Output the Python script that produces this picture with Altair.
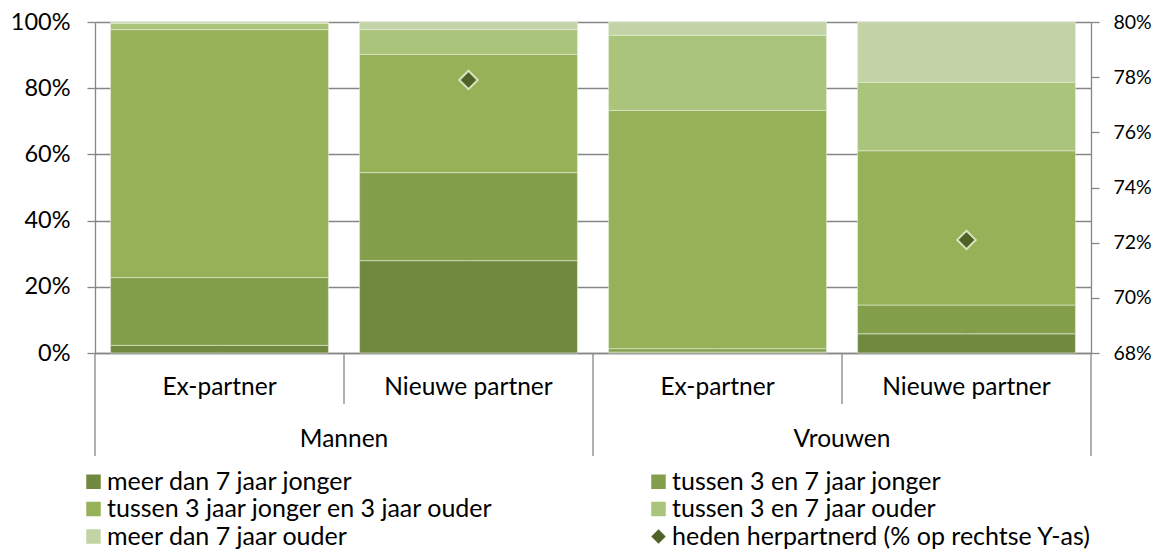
import altair as alt
import pandas as pd

# ---- data (percentages) ----
categories = ["Mannen|Ex-partner", "Mannen|Nieuwe partner",
              "Vrouwen|Ex-partner", "Vrouwen|Nieuwe partner"]
groups = ["Mannen", "Vrouwen"]
series = ["meer dan 7 jaar jonger", "tussen 3 en 7 jaar jonger",
          "tussen 3 jaar jonger en 3 jaar ouder", "tussen 3 en 7 jaar ouder",
          "meer dan 7 jaar ouder"]
marker_series = "heden herpartnerd (% op rechtse Y-as)"

meer_dan_7_jonger = [2.3, 27.9, 0.3, 5.8]
tussen_3_7_jonger = [20.5, 26.6, 1.0, 8.7]
tussen_3j_3o = [74.9, 35.7, 72.0, 46.6]
tussen_3_7_ouder = [1.9, 7.5, 22.7, 20.7]
meer_dan_7_ouder = [0.4, 2.3, 4.0, 18.2]

marker_categories = ["Mannen|Nieuwe partner", "Vrouwen|Nieuwe partner"]
heden_herpartnerd = [77.9, 72.1]

left_ticks = [0, 0.2, 0.4, 0.6, 0.8, 1.0]
right_ticks = [0.68, 0.70, 0.72, 0.74, 0.76, 0.78, 0.80]

series_colors = ["#71893F", "#849F4C", "#96B158", "#AAC47B", "#C2D3A5"]
marker_color = "#4F6228"

# ---- build tables ----
values = [meer_dan_7_jonger, tussen_3_7_jonger, tussen_3j_3o,
          tussen_3_7_ouder, meer_dan_7_ouder]
rows = []
for i, (s, vals) in enumerate(zip(series, values)):
    for c, v in zip(categories, vals):
        rows.append({"category": c, "series": s, "value": v / 100.0, "idx": i})
bars_df = pd.DataFrame(rows)
marker_df = pd.DataFrame({"category": marker_categories,
                          "value": [v / 100.0 for v in heden_herpartnerd]})
groups_df = pd.DataFrame({"group": groups})

FONT = "Lato"
GRAY = "#868686"
W, H = 996, 331

x_scale = alt.Scale(type="band", domain=categories, paddingInner=0.125, paddingOuter=0.0625)
g_scale = alt.Scale(type="band", domain=groups, paddingInner=0, paddingOuter=0)
left_scale = alt.Scale(domain=[0, 1], nice=False)

# legend is filled column by column: order entries so rows read like the original
all_series = series + [marker_series]
all_colors = series_colors + [marker_color]
all_shapes = ["square"] * 5 + ["diamond"]
legend_order = [0, 2, 4, 1, 3, 5]
dom = [all_series[k] for k in legend_order]
color_scale = alt.Scale(domain=dom, range=[all_colors[k] for k in legend_order])
shape_scale = alt.Scale(domain=dom, range=[all_shapes[k] for k in legend_order])

legend = alt.Legend(title=None, orient="none", legendX=-14, legendY=447,
                    columns=2, columnPadding=152, rowPadding=1.5,
                    symbolSize=210, symbolStrokeWidth=0, symbolOpacity=1,
                    labelFontSize=25, labelFont=FONT, labelColor="black",
                    labelOffset=1, labelLimit=700)

# legend helper: hidden behind the bars
legend_pts = alt.Chart(bars_df).mark_point(filled=True, opacity=1, clip=True, size=30).encode(
    x=alt.X("category:N", scale=x_scale, axis=None, bandPosition=0.5),
    y=alt.Y("value:Q", scale=left_scale, axis=None),
    color=alt.Color("series:N", scale=color_scale, legend=legend),
    shape=alt.Shape("series:N", scale=shape_scale, legend=legend),
)

bars = alt.Chart(bars_df).mark_bar(stroke="#E4ECD6", strokeWidth=0.6).encode(
    x=alt.X("category:N", scale=x_scale, title=None,
            axis=alt.Axis(labelExpr="split(datum.label, '|')[1]", ticks=False,
                          domainColor=GRAY, domainWidth=1.3, labelAngle=0,
                          labelFontSize=24.5, labelFont=FONT, labelColor="black",
                          labelPadding=22, grid=False)),
    y=alt.Y("value:Q", scale=left_scale, stack="zero", title=None,
            axis=alt.Axis(values=left_ticks, format=".0%", grid=True,
                          gridColor=GRAY, gridWidth=1.3, domainColor=GRAY,
                          domainWidth=1.3, tickColor=GRAY, tickWidth=1.3,
                          tickSize=8, labelFontSize=23.5, labelFont=FONT,
                          labelColor="black", labelPadding=17)),
    color=alt.Color("series:N", scale=color_scale, legend=None),
    order=alt.Order("idx:Q"),
)

markers = alt.Chart(marker_df).mark_point(shape="diamond", filled=True, size=340,
                                          fill=marker_color, stroke="#D7E4BD",
                                          strokeWidth=2, opacity=1).encode(
    x=alt.X("category:N", scale=x_scale, axis=None, bandPosition=0.5),
    y=alt.Y("value:Q", scale=alt.Scale(domain=[0.68, 0.80], nice=False), title=None,
            axis=alt.Axis(orient="right", values=right_ticks, format=".0%",
                          grid=False, domainColor=GRAY, domainWidth=1.3,
                          tickColor=GRAY, tickWidth=1.3, tickSize=8,
                          labelFontSize=19.5, labelFont=FONT, labelColor="black",
                          labelPadding=14)),
)

long_rules = alt.Chart(groups_df).mark_rule(color=GRAY, strokeWidth=1.3).encode(
    x=alt.X("group:N", scale=g_scale, axis=None, bandPosition=0),
    y=alt.value(H), y2=alt.value(H + 103),
)
last_rule = alt.Chart(groups_df).transform_filter(
    alt.datum.group == groups[-1]).mark_rule(color=GRAY, strokeWidth=1.3).encode(
    x=alt.X("group:N", scale=g_scale, axis=None, bandPosition=1),
    y=alt.value(H), y2=alt.value(H + 103),
)
short_rules = alt.Chart(groups_df).mark_rule(color=GRAY, strokeWidth=1.3).encode(
    x=alt.X("group:N", scale=g_scale, axis=None, bandPosition=0.5),
    y=alt.value(H), y2=alt.value(H + 51),
)
group_text = alt.Chart(groups_df).mark_text(font=FONT, fontSize=24.5, color="black",
                                            baseline="alphabetic").encode(
    x=alt.X("group:N", scale=g_scale, axis=None, bandPosition=0.5),
    y=alt.value(H + 94),
    text="group:N",
)

chart = alt.layer(
    legend_pts, bars, markers, long_rules, last_rule, short_rules, group_text
).resolve_scale(
    x="independent", y="independent"
).properties(
    width=W, height=H,
    padding={"left": 87, "top": 14, "right": 65, "bottom": 197},
    autosize=alt.AutoSizeParams(type="none"),
).configure_view(stroke=None).configure(font=FONT)

chart.save("out.html", embed_options={"renderer": "svg", "actions": False})
